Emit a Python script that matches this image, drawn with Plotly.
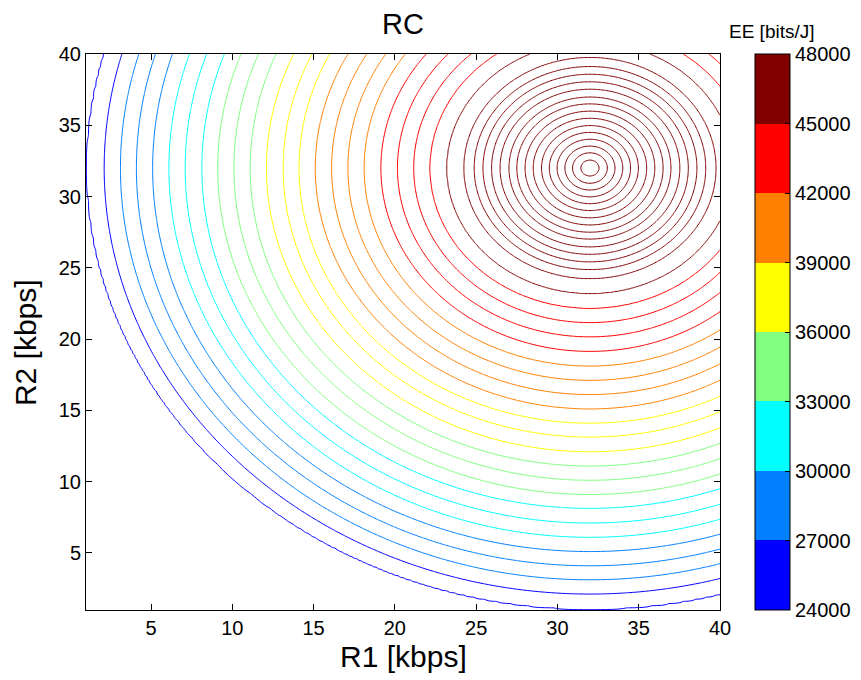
import numpy as np
import plotly.graph_objects as go

# Location and height of the EE maximum
peak_r1 = 32.0
peak_r2 = 32.0
peak_ee = 48000

# Contour levels of the EE surface (bits/J), from the peak outwards
ring_ee = [
    47850, 47670, 47490, 47310, 47130, 46950, 46770, 46590,
    46410, 46230, 46050, 45870, 45690, 45510, 45330, 45150,
    44625, 43875, 43125, 42375,
    41625, 40875, 40125, 39375,
    38500, 37500, 36500,
    35500, 34500, 33500,
    32500, 31500, 30500,
    29500, 28500, 27500,
    26500, 25500,
]
# Distance (kbps) from the maximum at which each level is reached
ring_radius = [
    0.56, 1.07, 1.54, 2.02, 2.50, 2.98, 3.49, 3.99,
    4.50, 4.98, 5.53, 6.05, 6.58, 7.12, 7.75, 8.82,
    9.85, 10.84, 11.84, 12.86,
    13.89, 14.89, 15.89, 16.90,
    17.90, 18.87, 19.90,
    20.90, 21.90, 22.90,
    23.87, 24.90, 25.90,
    26.90, 27.90, 28.88,
    29.88, 30.93,
]

# Colour scale (8 discrete jet bands) and its limits
band_edges = [24000, 27000, 30000, 33000, 36000, 39000, 42000, 45000, 48000]
band_colors = ["#0000ff", "#0080ff", "#00ffff", "#80ff80",
               "#ffff00", "#ff8000", "#ff0000", "#800000"]
cbar_ticks = [24000, 27000, 30000, 33000, 36000, 39000, 42000, 45000, 48000]

x_ticks = [5, 10, 15, 20, 25, 30, 35, 40]
y_ticks = [5, 10, 15, 20, 25, 30, 35, 40]


def ee_surface(r1, r2):
    """Radial EE profile around the maximum."""
    d = np.hypot(r1[None, :] - peak_r1, r2[:, None] - peak_r2)
    xp = [0.0] + ring_radius + [60.0]
    fp = [peak_ee] + ring_ee + [20000]
    return np.round(np.interp(d, xp, fp), 1)


fig = go.Figure()

grid_full = np.linspace(1, 40, 261)
grid_peak = np.linspace(22, 40, 226)

levels = np.array(ring_ee, dtype=float)
for i, color in enumerate(band_colors):
    lo, hi = band_edges[i], band_edges[i + 1]
    lv = np.sort(levels[(levels >= lo) & (levels < hi)])
    if lv.size == 0:
        continue
    step = (lv[-1] - lv[0]) / (lv.size - 1) if lv.size > 1 else 1000.0
    g = grid_peak if i == len(band_colors) - 1 else grid_full
    fig.add_trace(go.Contour(
        x=g, y=g, z=ee_surface(g, g),
        autocontour=False,
        contours=dict(start=float(lv[0]), end=float(lv[-1]) + step * 0.01,
                      size=float(step), coloring="none"),
        line=dict(color=color, width=1, smoothing=1),
        showscale=False, hoverinfo="skip",
    ))

# Discrete colour bar
cmin, cmax = band_edges[0], band_edges[-1]
cscale = []
for i, color in enumerate(band_colors):
    a = (band_edges[i] - cmin) / (cmax - cmin)
    b = (band_edges[i + 1] - cmin) / (cmax - cmin)
    cscale += [[a, color], [b, color]]

# Colour bar geometry in paper units (plot area is 634 px wide)
cbar_x0 = (755 - 86) / 634
cbar_tick_w = 5 / 634

fig.add_trace(go.Scatter(
    x=[None], y=[None], mode="markers", hoverinfo="skip", showlegend=False,
    marker=dict(
        color=[cmin], colorscale=cscale, cmin=cmin, cmax=cmax, showscale=True,
        colorbar=dict(
            x=cbar_x0, xanchor="left", xpad=0,
            y=0.5, yanchor="middle", len=1.0, lenmode="fraction", ypad=0,
            thickness=35, thicknessmode="pixels",
            outlinecolor="black", outlinewidth=1,
            tickvals=cbar_ticks, ticktext=[str(t) for t in cbar_ticks],
            ticks="inside", ticklen=5, tickcolor="black",
            tickfont=dict(size=20, color="black"),
        ),
    ),
))

# Tick marks on the left edge of the colour bar
cbar_left_ticks = [
    dict(type="line", xref="paper", yref="paper",
         x0=cbar_x0, x1=cbar_x0 + cbar_tick_w,
         y0=(t - cmin) / (cmax - cmin), y1=(t - cmin) / (cmax - cmin),
         line=dict(color="black", width=1))
    for t in cbar_ticks[1:-1]
]

axis_common = dict(
    showgrid=False, zeroline=False, showline=True, linecolor="black",
    linewidth=1, mirror="ticks", ticks="inside", ticklen=6,
    tickcolor="black", tickfont=dict(size=20, color="black"),
)

fig.update_layout(
    width=861, height=680,
    margin=dict(l=86, r=141, t=54, b=70, autoexpand=False),
    paper_bgcolor="white", plot_bgcolor="white",
    font=dict(family="Liberation Sans, Arial, sans-serif", color="black"),
    showlegend=False,
    title=dict(text="RC", x=403 / 861, xanchor="center",
               y=1 - 24 / 680, yanchor="middle", font=dict(size=29)),
    xaxis=dict(range=[1, 40], tickvals=x_ticks, **axis_common),
    yaxis=dict(range=[1, 40], tickvals=y_ticks, **axis_common),
    shapes=cbar_left_ticks,
    annotations=[
        dict(text="R1 [kbps]", xref="paper", yref="paper",
             x=0.5, y=-(656 - 610) / 556, xanchor="center", yanchor="middle",
             showarrow=False, font=dict(size=30)),
        dict(text="R2 [kbps]", xref="paper", yref="paper",
             x=-(86 - 25) / 634, y=0.48, xanchor="center", yanchor="middle",
             textangle=-90, showarrow=False, font=dict(size=30)),
        dict(text="EE [bits/J]", xref="paper", yref="paper",
             x=(772 - 86) / 634, y=1 + (54 - 31) / 556,
             xanchor="center", yanchor="middle",
             showarrow=False, font=dict(size=19)),
    ],
)

fig.write_html("out.html")
